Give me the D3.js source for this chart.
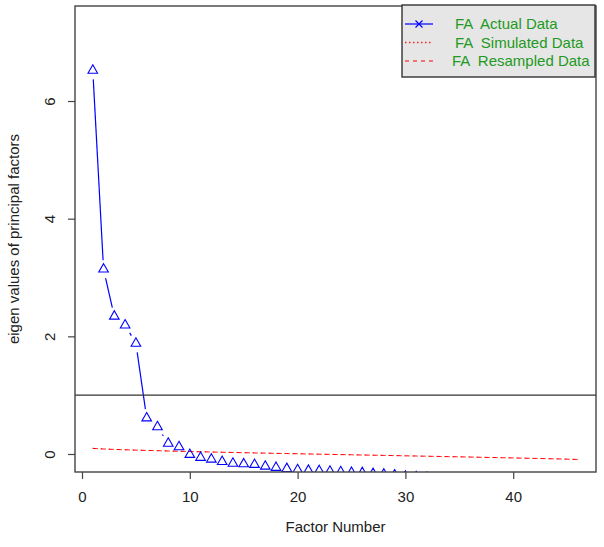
<!DOCTYPE html>
<html>
<head>
<meta charset="utf-8">
<script src="https://cdn.jsdelivr.net/npm/d3@7"></script>
<style>
  body { margin: 0; background: #fff; }
  svg { display: block; font-family: "Liberation Sans", Arial, sans-serif; }
</style>
</head>
<body>
<div id="chart"></div>
<script>
// factor numbers 1..46
var factors = [1,2,3,4,5,6,7,8,9,10,11,12,13,14,15,16,17,18,19,20,21,22,23,
  24,25,26,27,28,29,30,31,32,33,34,35,36,37,38,39,40,41,42,43,44,45,46];

// FA actual eigen values (points below the frame are clipped as in the original)
var actualData = [6.52, 3.14, 2.34, 2.19, 1.88, 0.61, 0.46, 0.18, 0.12, -0.01,
  -0.06, -0.09, -0.13, -0.16, -0.17, -0.18, -0.21, -0.23, -0.25, -0.27,
  -0.28, -0.285, -0.295, -0.305, -0.315, -0.32, -0.335, -0.345, -0.36, -0.38,
  -0.39, -0.40, -0.41, -0.42, -0.43, -0.44, -0.45, -0.46, -0.47, -0.48,
  -0.49, -0.50, -0.51, -0.53, -0.55, -0.58];

// FA simulated data (dotted)
var simulatedData = [0.097, 0.086, 0.078, 0.071, 0.066, 0.060, 0.055, 0.051, 0.046, 0.042,
  0.038, 0.033, 0.030, 0.026, 0.022, 0.018, 0.014, 0.011, 0.007, 0.004,
  0.000, -0.003, -0.007, -0.010, -0.014, -0.017, -0.021, -0.024, -0.028, -0.031,
  -0.035, -0.038, -0.042, -0.045, -0.049, -0.052, -0.056, -0.060, -0.063, -0.067,
  -0.071, -0.075, -0.079, -0.083, -0.088, -0.093];

// FA resampled data (dashed)
var resampledData = [0.095, 0.085, 0.078, 0.072, 0.066, 0.061, 0.056, 0.051, 0.047, 0.042,
  0.038, 0.034, 0.030, 0.026, 0.022, 0.018, 0.015, 0.011, 0.008, 0.004,
  0.001, -0.003, -0.006, -0.010, -0.013, -0.017, -0.020, -0.024, -0.027, -0.031,
  -0.034, -0.038, -0.041, -0.045, -0.048, -0.052, -0.056, -0.059, -0.063, -0.067,
  -0.071, -0.075, -0.079, -0.083, -0.087, -0.093];

var xTicks = [0, 10, 20, 30, 40];
var yTicks = [0, 2, 4, 6];
var refLine = 1;

var legendLabels = ["FA  Actual Data", "FA  Simulated Data", "FA  Resampled Data"];

var w = 604, h = 547;
var pLeft = 75, pRight = 596, pTop = 6, pBottom = 472;
var fs = 15;

var svg = d3.select("#chart").append("svg")
  .attr("width", w)
  .attr("height", h);

var x = d3.scaleLinear().domain([-0.65, 47.68]).range([pLeft, pRight]);
var y = d3.scaleLinear().domain([-0.306, 7.615]).range([pBottom, pTop]);

svg.append("clipPath").attr("id", "plotclip")
  .append("rect")
  .attr("x", pLeft).attr("y", pTop)
  .attr("width", pRight - pLeft).attr("height", pBottom - pTop);

var plot = svg.append("g").attr("clip-path", "url(#plotclip)");

// simulated (dotted) and resampled (dashed) lines
var line = d3.line()
  .x(function(d, i) { return x(factors[i]); })
  .y(function(d) { return y(d); });

plot.append("path")
  .datum(simulatedData)
  .attr("d", line)
  .attr("fill", "none")
  .attr("stroke", "red")
  .attr("stroke-width", 1)
  .attr("stroke-dasharray", "1,3");

plot.append("path")
  .datum(resampledData)
  .attr("d", line)
  .attr("fill", "none")
  .attr("stroke", "red")
  .attr("stroke-width", 1)
  .attr("stroke-dasharray", "4,4");

// actual data, type "b": segments with gaps around the points
var gap = 9;
var segs = [];
for (var i = 0; i < actualData.length - 1; i++) {
  var x1 = x(factors[i]), y1 = y(actualData[i]);
  var x2 = x(factors[i + 1]), y2 = y(actualData[i + 1]);
  var dist = Math.sqrt((x2 - x1) * (x2 - x1) + (y2 - y1) * (y2 - y1));
  if (dist > 2 * gap) {
    var ux = (x2 - x1) / dist, uy = (y2 - y1) / dist;
    segs.push([x1 + ux * gap, y1 + uy * gap, x2 - ux * gap, y2 - uy * gap]);
  }
}
plot.selectAll("line.actual")
  .data(segs)
  .enter()
  .append("line")
  .attr("class", "actual")
  .attr("x1", function(d) { return d[0]; })
  .attr("y1", function(d) { return d[1]; })
  .attr("x2", function(d) { return d[2]; })
  .attr("y2", function(d) { return d[3]; })
  .attr("stroke", "blue")
  .attr("stroke-width", 1.2);

var tri = "M0,-5.6L4.8,2.8L-4.8,2.8Z";
plot.selectAll("path.tri")
  .data(actualData)
  .enter()
  .append("path")
  .attr("class", "tri")
  .attr("d", tri)
  .attr("transform", function(d, i) {
    return "translate(" + x(factors[i]) + "," + y(d) + ")";
  })
  .attr("fill", "none")
  .attr("stroke", "blue")
  .attr("stroke-width", 1.1);

// horizontal reference line at 1
svg.append("line")
  .attr("x1", pLeft).attr("x2", pRight)
  .attr("y1", y(refLine)).attr("y2", y(refLine))
  .attr("stroke", "#333")
  .attr("stroke-width", 1.4);

// frame
svg.append("rect")
  .attr("x", pLeft).attr("y", pTop)
  .attr("width", pRight - pLeft).attr("height", pBottom - pTop)
  .attr("fill", "none")
  .attr("stroke", "#444")
  .attr("stroke-width", 1.4);

// axes
var xAxis = d3.axisBottom(x).tickValues(xTicks).tickSize(7).tickPadding(12);
var gx = svg.append("g")
  .attr("transform", "translate(0," + pBottom + ")")
  .call(xAxis);
gx.select(".domain").remove();
gx.selectAll("line").attr("stroke", "#444").attr("stroke-width", 1.2);
gx.selectAll("text").attr("font-size", fs).attr("fill", "#222")
  .attr("font-family", "Liberation Sans, Arial, sans-serif");

var yAxis = d3.axisLeft(y).tickValues(yTicks).tickSize(7).tickPadding(0);
var gy = svg.append("g")
  .attr("transform", "translate(" + pLeft + ",0)")
  .call(yAxis);
gy.select(".domain").remove();
gy.selectAll("line").attr("stroke", "#444").attr("stroke-width", 1.2);
gy.selectAll("text")
  .attr("font-size", fs).attr("fill", "#222")
  .attr("font-family", "Liberation Sans, Arial, sans-serif")
  .attr("x", null).attr("dy", null)
  .attr("text-anchor", "middle")
  .attr("transform", "translate(-26,0) rotate(-90)")
  .attr("dominant-baseline", "central");

// axis titles
svg.append("text")
  .attr("x", (pLeft + pRight) / 2)
  .attr("y", 532)
  .attr("text-anchor", "middle")
  .attr("font-size", fs)
  .attr("fill", "#222")
  .text("Factor Number");

svg.append("text")
  .attr("transform", "translate(19," + ((pTop + pBottom) / 2) + ") rotate(-90)")
  .attr("text-anchor", "middle")
  .attr("font-size", fs)
  .attr("fill", "#222")
  .text("eigen values of principal factors");

// legend
var lg = svg.append("g");
lg.append("rect")
  .attr("x", 402).attr("y", 5)
  .attr("width", 193).attr("height", 72)
  .attr("fill", "#e6e6e6")
  .attr("stroke", "#333")
  .attr("stroke-width", 1.4);

var rowsY = [24, 42.5, 61];
var textX = [455, 455, 452];
var dashes = [null, "1.5,2.5", "4,4"];
var widths = [1.2, 1.5, 1.2];
var colors = ["blue", "#ff2020", "red"];

lg.selectAll("line.key")
  .data(legendLabels)
  .enter()
  .append("line")
  .attr("class", "key")
  .attr("x1", 405).attr("x2", 433)
  .attr("y1", function(d, i) { return rowsY[i]; })
  .attr("y2", function(d, i) { return rowsY[i]; })
  .attr("stroke", function(d, i) { return colors[i]; })
  .attr("stroke-width", function(d, i) { return widths[i]; })
  .attr("stroke-dasharray", function(d, i) { return dashes[i]; });

lg.append("path")
  .attr("d", "M-3.5,-3.5L3.5,3.5M-3.5,3.5L3.5,-3.5")
  .attr("transform", "translate(419," + rowsY[0] + ")")
  .attr("stroke", "blue")
  .attr("stroke-width", 1.2);

lg.selectAll("text.lab")
  .data(legendLabels)
  .enter()
  .append("text")
  .attr("class", "lab")
  .attr("x", function(d, i) { return textX[i]; })
  .attr("y", function(d, i) { return rowsY[i]; })
  .attr("dy", "0.36em")
  .attr("font-size", fs)
  .attr("fill", "#229922")
  .attr("xml:space", "preserve")
  .style("white-space", "pre")
  .text(function(d) { return d; });
</script>
</body>
</html>
